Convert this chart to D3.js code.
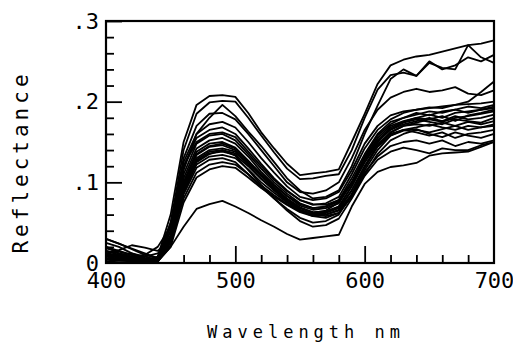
<!DOCTYPE html>
<html>
<head>
<meta charset="utf-8">
<script src="https://cdn.jsdelivr.net/npm/d3@7"></script>
<style>
  body { margin: 0; background: #fff; }
  .curve { fill: none; stroke: #000; stroke-width: 1.8; stroke-linejoin: round; }
  .tick text { font-family: "DejaVu Sans Mono", monospace; font-size: 22px; fill: #000; }
  .axis path { display: none; }
  .axis line { stroke: #000; stroke-width: 1.8; }
  .title { font-family: "DejaVu Sans Mono", monospace; fill: #000; }
</style>
</head>
<body>
<div id="chart"></div>
<script>
// wavelengths, 400..700 nm every 10 nm
const wavelengths = [400, 410, 420, 430, 440, 450, 460, 470, 480, 490, 500, 510, 520, 530, 540, 550,
  560, 570, 580, 590, 600, 610, 620, 630, 640, 650, 660, 670, 680, 690, 700];

// reflectance spectra
const s01 = [.008,.005,.004,.003,.008,.06,.15,.196,.207,.208,.206,.186,.162,.142,.123,.109,.111,.113,.116,.15,.185,.222,.245,.252,.256,.258,.262,.266,.27,.272,.276];
const s02 = [.012,.008,.005,.004,.006,.05,.14,.185,.199,.201,.2,.18,.158,.137,.117,.104,.105,.108,.11,.14,.18,.215,.233,.236,.232,.248,.242,.24,.27,.255,.248];
const s03 = [.015,.01,.006,.004,.004,.04,.115,.16,.18,.196,.182,.163,.145,.125,.105,.09,.08,.082,.09,.12,.16,.195,.228,.24,.232,.25,.24,.245,.255,.25,.258];
const s04 = [.01,.006,.004,.003,.005,.045,.13,.17,.185,.186,.178,.16,.14,.12,.1,.088,.086,.09,.1,.13,.165,.19,.205,.212,.216,.212,.214,.218,.21,.208,.214];
const s05 = [.02,.012,.008,.005,.006,.05,.125,.16,.172,.175,.168,.15,.13,.112,.095,.082,.078,.08,.088,.115,.148,.17,.183,.188,.19,.193,.192,.196,.2,.212,.225];
const s06 = [.005,.004,.003,.002,.003,.04,.12,.155,.165,.168,.16,.142,.123,.105,.09,.078,.072,.074,.082,.11,.142,.165,.178,.186,.19,.192,.194,.196,.197,.198,.2];
const s07 = [.018,.014,.01,.006,.004,.035,.11,.148,.158,.16,.152,.135,.117,.1,.086,.074,.068,.07,.078,.105,.135,.16,.175,.18,.186,.183,.188,.19,.186,.19,.194];
const s08 = [.01,.008,.006,.004,.002,.03,.105,.142,.152,.155,.148,.132,.113,.097,.083,.071,.066,.068,.074,.1,.13,.155,.17,.176,.18,.178,.182,.176,.183,.186,.19];
const s09 = [.025,.02,.012,.006,.003,.032,.1,.138,.148,.15,.143,.127,.11,.094,.08,.069,.063,.064,.07,.095,.125,.15,.165,.172,.176,.18,.176,.182,.178,.18,.184];
const s10 = [.008,.01,.012,.008,.004,.03,.098,.134,.144,.146,.14,.125,.108,.092,.078,.066,.06,.06,.066,.09,.12,.146,.162,.17,.172,.17,.174,.17,.175,.172,.176];
const s11 = [.03,.024,.018,.012,.006,.028,.095,.13,.14,.142,.138,.122,.105,.09,.076,.065,.058,.056,.062,.085,.115,.14,.158,.165,.168,.172,.168,.165,.17,.168,.172];
const s12 = [.012,.016,.022,.019,.015,.03,.09,.126,.136,.138,.134,.12,.104,.09,.077,.066,.061,.063,.07,.095,.128,.152,.168,.175,.18,.184,.18,.186,.188,.19,.192];
const s13 = [.015,.012,.008,.005,.003,.025,.088,.122,.132,.134,.13,.116,.1,.087,.075,.065,.06,.058,.062,.082,.11,.135,.152,.16,.165,.162,.166,.17,.165,.168,.17];
const s14 = [.006,.005,.004,.003,.002,.022,.085,.118,.128,.13,.125,.11,.094,.08,.067,.056,.05,.052,.06,.085,.118,.145,.162,.17,.174,.178,.175,.18,.182,.185,.188];
const s15 = [.02,.015,.01,.008,.012,.028,.08,.112,.122,.125,.122,.11,.096,.084,.073,.064,.06,.062,.068,.09,.12,.144,.158,.164,.166,.16,.156,.162,.158,.155,.16];
const s16 = [.004,.003,.002,.002,.002,.02,.075,.106,.116,.12,.118,.106,.093,.082,.072,.063,.058,.06,.065,.085,.112,.132,.145,.15,.152,.148,.152,.145,.15,.148,.152];
const s17 = [.01,.008,.006,.004,.003,.025,.09,.125,.135,.14,.133,.115,.097,.08,.065,.052,.045,.047,.055,.08,.108,.128,.138,.143,.14,.136,.142,.14,.14,.146,.15];
const s18 = [.002,.001,.001,.001,.002,.02,.045,.067,.073,.077,.07,.062,.053,.045,.036,.029,.031,.033,.035,.07,.098,.113,.119,.121,.124,.133,.136,.137,.138,.144,.15];
const s19 = [.03,.024,.017,.01,.006,.03,.1,.135,.145,.148,.142,.126,.108,.092,.079,.068,.062,.065,.075,.1,.13,.152,.166,.174,.178,.175,.172,.178,.176,.174,.18];
const s20 = [.005,.006,.008,.01,.02,.045,.12,.15,.16,.162,.156,.138,.12,.103,.089,.078,.073,.072,.078,.1,.132,.158,.172,.18,.184,.188,.186,.19,.194,.192,.196];
const s21 = [.012,.01,.007,.005,.004,.03,.092,.128,.138,.14,.136,.124,.11,.096,.083,.073,.068,.07,.076,.098,.125,.148,.16,.165,.162,.158,.162,.155,.16,.162,.165];

const spectra = [s01, s02, s03, s04, s05, s06, s07, s08, s09, s10, s11, s12, s13, s14, s15, s16, s17, s18, s19, s20, s21];

const xLabels = [400, 500, 600, 700];
const xMinor = [420, 440, 460, 480, 520, 540, 560, 580, 620, 640, 660, 680];
const xMajor = [500, 600];
const yLabels = [0, 0.1, 0.2, 0.3];
const yMinor = [0.02, 0.04, 0.06, 0.08, 0.12, 0.14, 0.16, 0.18, 0.22, 0.24, 0.26, 0.28];
const yMajor = [0.1, 0.2, 0.3];

const W = 513, H = 345;
const margin = { top: 21, right: 19, bottom: 82, left: 106 };
const width = W - margin.left - margin.right;
const height = H - margin.top - margin.bottom;

const x = d3.scaleLinear().domain([400, 700]).range([0, width]);
const y = d3.scaleLinear().domain([0, 0.3]).range([height, 0]);

const svg = d3.select('#chart').append('svg')
  .attr('width', W).attr('height', H)
  .append('g').attr('transform', 'translate(' + margin.left + ',' + margin.top + ')');

const line = d3.line()
  .x((d, i) => x(wavelengths[i]))
  .y(d => y(d));

svg.selectAll('.curve').data(spectra)
  .enter().append('path')
  .attr('class', 'curve')
  .attr('d', d => line(d));

// inward ticks
const bottom = 'translate(0,' + height + ')';
svg.append('g').attr('class', 'axis').attr('transform', bottom)
  .call(d3.axisBottom(x).tickValues(xMinor).tickSize(-8).tickFormat(''));
svg.append('g').attr('class', 'axis').attr('transform', bottom)
  .call(d3.axisBottom(x).tickValues(xMajor).tickSize(-17).tickFormat(''));
svg.append('g').attr('class', 'axis')
  .call(d3.axisLeft(y).tickValues(yMinor).tickSize(-8).tickFormat(''));
svg.append('g').attr('class', 'axis')
  .call(d3.axisLeft(y).tickValues(yMajor).tickSize(-16).tickFormat(''));

// labels
svg.append('g').attr('class', 'axis').attr('transform', bottom)
  .call(d3.axisBottom(x).tickValues(xLabels).tickSize(0).tickPadding(9).tickFormat(d3.format('d')));
svg.append('g').attr('class', 'axis')
  .call(d3.axisLeft(y).tickValues(yLabels).tickSize(0).tickPadding(7)
    .tickFormat(d => d === 0 ? '0' : d3.format('.1f')(d).replace(/^0/, '')));

// frame
svg.append('rect')
  .attr('width', width).attr('height', height)
  .attr('fill', 'none').attr('stroke', '#000').attr('stroke-width', 2.2);

svg.append('text').attr('class', 'title')
  .attr('x', width / 2 + 6).attr('y', height + 75)
  .attr('text-anchor', 'middle')
  .style('font-size', '17px').style('letter-spacing', '5px')
  .text('Wavelength nm');

svg.append('text').attr('class', 'title')
  .attr('transform', 'translate(' + (-78) + ',' + (height / 2 + 20) + ') rotate(-90)')
  .attr('text-anchor', 'middle')
  .style('font-size', '21px').style('letter-spacing', '4px')
  .text('Reflectance');
</script>
</body>
</html>
